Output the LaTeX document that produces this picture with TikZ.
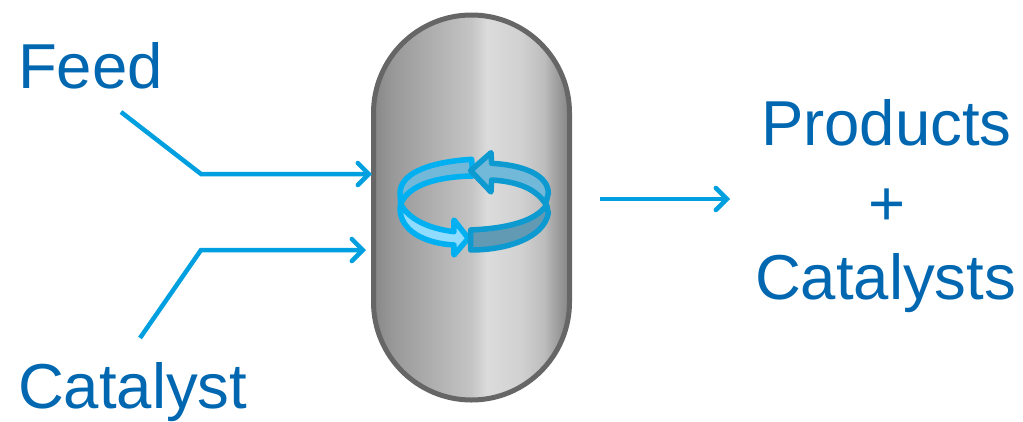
\documentclass[tikz,border=0pt]{standalone}
\usepackage{fontspec}
\setmainfont{Liberation Sans}
\usetikzlibrary{arrows.meta,shadings}
\definecolor{txtblue}{HTML}{0067B0}
\definecolor{linkblue}{HTML}{00A0E0}
\definecolor{ringA}{HTML}{00B0F0}
\definecolor{ringB}{HTML}{0D9AD0}
\definecolor{fillA}{HTML}{72B8D8}
\definecolor{fillB}{HTML}{8FDCFF}
\definecolor{fillC}{HTML}{6299B3}
\pgfdeclarehorizontalshading{vesselshade}{100bp}{
 color(0bp)=(black!47);
 color(25bp)=(black!47);
 color(30bp)=(black!40);
 color(50bp)=(black!23);
 color(54bp)=(black!14);
 color(62.5bp)=(black!18);
 color(68.5bp)=(black!26);
 color(71.5bp)=(black!37);
 color(75bp)=(black!48);
 color(100bp)=(black!48)}
\tikzset{
 lbl/.style={text=txtblue,font=\fontsize{63.5}{63.5}\selectfont,anchor=base west,inner sep=0pt,outer sep=0pt},
 link/.style={draw=linkblue,line width=4.5pt,line join=miter},
 flow/.style={link,-{Straight Barb[length=11pt,width=22pt,line cap=round,line width=4.5pt]}},
 ringline/.style={line width=5.5pt,line join=round},
}
\begin{document}
\begin{tikzpicture}[x=1pt,y=-1pt]
\useasboundingbox (0,0) rectangle (1023,421);
% vessel
\path[shading=vesselshade,shading angle=0] (373.5,113) arc[start angle=180,end angle=360,radius=98] -- (569.5,302) arc[start angle=0,end angle=180,radius=98] -- cycle;
\draw[draw=black!60,line width=5pt] (373.5,113) arc[start angle=180,end angle=360,radius=98] -- (569.5,302) arc[start angle=0,end angle=180,radius=98] -- cycle;
\node[inner sep=0pt,minimum size=0pt] (vessel) at (472,208) {};
% ring
\begin{scope}[shift={(380,130)},x=0.3333pt,y=-0.3333pt]
 \draw[ringline,draw=ringA,fill=fillA] (275,88) .. controls (160,95) and (60,125) .. (60,190) -- (62,222) .. controls (85,165) and (170,140) .. (278,138) -- cycle;
 \draw[ringline,draw=ringB,fill=fillA] (272,122) -- (333,68) -- (335,100) .. controls (430,105) and (505,135) .. (505,190) -- (497,222) .. controls (470,180) and (420,155) .. (335,150) -- (333,186) -- cycle;
 \draw[ringline,draw=ringA,fill=fillB] (62,222) .. controls (85,265) and (140,295) .. (222,305) -- (222,270) -- (265,325) -- (222,375) -- (222,345) .. controls (130,340) and (60,300) .. (60,235) -- cycle;
 \draw[ringline,draw=ringB,fill=fillC] (272,300) .. controls (380,295) and (465,275) .. (500,225) -- (505,250) .. controls (490,325) and (380,360) .. (272,360) -- cycle;
\end{scope}
% labels
\node[lbl] (feed) at (18,88) {Feed};
\node[lbl] (catalyst) at (18,408) {Catalyst};
\node[lbl] (products) at (761,145) {Products};
\node[lbl] (plus) at (868,225) {+};
\node[lbl] (catalysts) at (755,299) {Catalysts};
% connectors
\coordinate (feedstart) at (121,112);
\coordinate (feedbend) at (201,174);
\coordinate (feedend) at (372,174);
\coordinate (catstart) at (140,338);
\coordinate (catbend) at (201,250);
\coordinate (catend) at (366,250);
\coordinate (outstart) at (600,199);
\coordinate (outend) at (730,199);
\draw[flow] (feedstart) -- (feedbend) -- (feedend);
\draw[flow] (catstart) -- (catbend) -- (catend);
\draw[flow] (outstart) -- (outend);
\end{tikzpicture}
\end{document}
